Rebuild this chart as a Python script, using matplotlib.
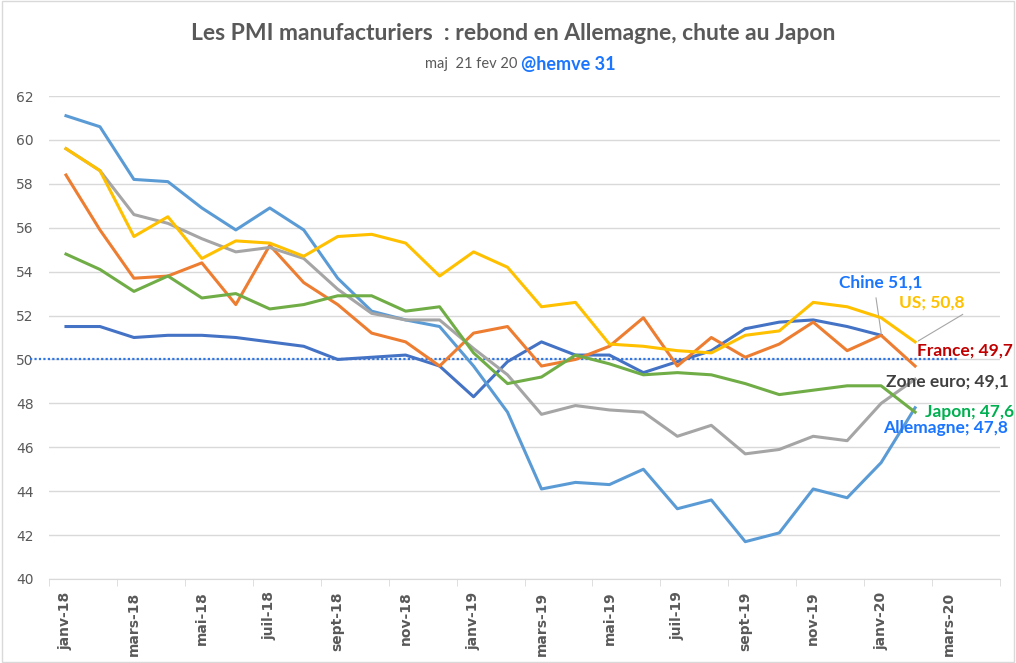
import matplotlib
matplotlib.use("Agg")
import matplotlib.pyplot as plt
from matplotlib.patches import Rectangle
import numpy as np

months = ['janv', 'févr', 'mars', 'avr', 'mai', 'juin',
          'juil', 'août', 'sept', 'oct', 'nov', 'déc']
labels = [f'{m}-{y}' for y in ('18', '19', '20') for m in months][:28]

allemagne = [61.1, 60.6, 58.2, 58.1, 56.9, 55.9, 56.9, 55.9, 53.7, 52.2, 51.8, 51.5,
             49.7, 47.6, 44.1, 44.4, 44.3, 45.0, 43.2, 43.6, 41.7, 42.1, 44.1, 43.7,
             45.3, 47.8]
chine = [51.5, 51.5, 51.0, 51.1, 51.1, 51.0, 50.8, 50.6, 50.0, 50.1, 50.2, 49.7,
         48.3, 49.9, 50.8, 50.2, 50.2, 49.4, 49.9, 50.4, 51.4, 51.7, 51.8, 51.5,
         51.1]
france = [58.4, 55.9, 53.7, 53.8, 54.4, 52.5, 55.2, 53.5, 52.5, 51.2, 50.8, 49.7,
          51.2, 51.5, 49.7, 50.0, 50.6, 51.9, 49.7, 51.0, 50.1, 50.7, 51.7, 50.4,
          51.1, 49.7]
zone_euro = [59.6, 58.6, 56.6, 56.2, 55.5, 54.9, 55.1, 54.6, 53.2, 52.1, 51.8, 51.8,
             50.5, 49.3, 47.5, 47.9, 47.7, 47.6, 46.5, 47.0, 45.7, 45.9, 46.5, 46.3,
             48.0, 49.1]
japon = [54.8, 54.1, 53.1, 53.8, 52.8, 53.0, 52.3, 52.5, 52.9, 52.9, 52.2, 52.4,
         50.3, 48.9, 49.2, 50.2, 49.8, 49.3, 49.4, 49.3, 48.9, 48.4, 48.6, 48.8,
         48.8, 47.6]
us = [59.6, 58.6, 55.6, 56.5, 54.6, 55.4, 55.3, 54.7, 55.6, 55.7, 55.3, 53.8,
      54.9, 54.2, 52.4, 52.6, 50.7, 50.6, 50.4, 50.3, 51.1, 51.3, 52.6, 52.4,
      51.9, 50.8]

fig = plt.figure(figsize=(10.16, 6.63), dpi=100)
W, H = 1016, 663
ax = fig.add_axes([49 / W, 1 - 579 / H, (1000 - 49) / W, (579 - 96) / H])

lw = 2.2
ax.plot(np.arange(len(chine)), chine, color='#4472C4', lw=lw, zorder=3)
ax.plot(np.arange(len(allemagne)), allemagne, color='#5B9BD5', lw=lw, zorder=3)
ax.plot(np.arange(len(france)), france, color='#ED7D31', lw=lw, zorder=3)
ax.plot(np.arange(len(zone_euro)), zone_euro, color='#A5A5A5', lw=lw, zorder=3)
ax.plot(np.arange(len(us)), us, color='#FFC000', lw=lw, zorder=3)
ax.plot(np.arange(len(japon)), japon, color='#70AD47', lw=lw, zorder=3)

# ligne des 50
ax.axhline(50, xmin=-0.02, xmax=0.956, color='#2E75E6', lw=1.6,
           linestyle=(0, (1, 1)), clip_on=False, zorder=2)

ax.set_xlim(-0.5, len(labels) - 0.5)
ax.set_ylim(40, 62)
ax.set_yticks(np.arange(40, 63, 2))
ax.yaxis.grid(True, color='#D9D9D9', lw=1)
ax.set_axisbelow(True)
for s in ['top', 'right', 'left']:
    ax.spines[s].set_visible(False)
ax.spines['bottom'].set_color('#D9D9D9')
ax.tick_params(axis='y', length=0, labelsize=10, labelcolor='#595959', pad=11)

ax.set_xticks(np.arange(0, len(labels), 2))
ax.set_xticklabels(labels[::2], rotation=90, fontsize=10, color='#595959',
                   fontweight='bold')
ax.set_xticks(np.arange(-0.5, len(labels), 2), minor=True)
ax.tick_params(axis='x', which='major', length=0, pad=9)
ax.tick_params(axis='x', which='minor', length=5, color='#D9D9D9')

# étiquettes de fin de série
lab = dict(fontsize=12.5, fontweight='bold', family='Lato')
ax.text(24.0, 53.5, 'Chine 51,1', color='#1A75FF', ha='center', va='center', **lab)
ax.plot([23.85, 24.0], [52.8, chine[-1] + 0.1], color='#A6A6A6', lw=0.8)
ax.text(25.5, 52.6, 'US; 50,8', color='#FFC000', ha='center', va='center', **lab)
ax.plot([26.4, 25.1], [52.05, us[-1] + 0.05], color='#A6A6A6', lw=0.8)
ax.text(25.05, 50.4, 'France; 49,7', color='#C00000', ha='left', va='center', **lab)
ax.text(24.15, 49.0, 'Zone euro; 49,1', color='#404040', ha='left', va='center', **lab)
ax.text(25.3, 47.6, 'Japon; 47,6', color='#00B050', ha='left', va='center', **lab)
ax.text(24.05, 46.9, 'Allemagne; 47,8', color='#1A75FF', ha='left', va='center', **lab)

fig.text(513 / W, 1 - 33 / H, 'Les PMI manufacturiers  : rebond en Allemagne, chute au Japon',
         ha='center', va='center', fontsize=16.5, fontweight='bold', color='#595959',
         family='Lato')
fig.text(517 / W, 1 - 64 / H, 'maj  21 fev 20', ha='right', va='center',
         fontsize=10.5, color='#595959', family='Lato')
fig.text(521 / W, 1 - 64 / H, '@hemve 31', ha='left', va='center',
         fontsize=13, fontweight='bold', color='#1A75FF', family='Lato')

fig.patches.append(Rectangle((0.002, 0.002), 0.996, 0.996, transform=fig.transFigure,
                             fill=False, edgecolor='#D9D9D9', lw=1))

fig.savefig('out.png', dpi=100)
